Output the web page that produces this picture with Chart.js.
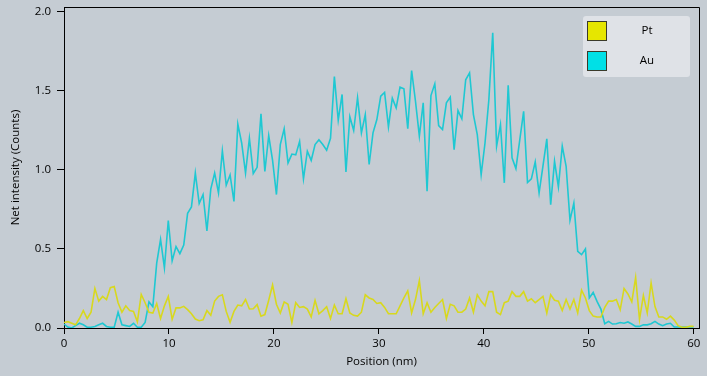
<!DOCTYPE html>
<html>
<head>
<meta charset="utf-8">
<script src="https://cdn.jsdelivr.net/npm/chart.js@4.4.1/dist/chart.umd.min.js"></script>
<style>
  html, body { margin: 0; padding: 0; background: #c5ccd3; }
  #wrap { width: 707px; height: 376px; }
</style>
</head>
<body>
<div id="wrap"><canvas id="perfil"></canvas></div>
<script>
// line scan sampled every ~0.368 nm
const passoNm = 0.368;
const ticksX = [0, 10, 20, 30, 40, 50, 60];
const ticksY = [0, 0.5, 1.0, 1.5, 2.0];

const intensidadePt = [
  0.035, 0.04, 0.03, 0.02, 0.06, 0.11, 0.06, 0.10, 0.25, 0.17,
  0.20, 0.18, 0.255, 0.262, 0.16, 0.10, 0.14, 0.11, 0.105, 0.04,
  0.212, 0.16, 0.10, 0.095, 0.155, 0.06, 0.14, 0.20, 0.055, 0.127,
  0.127, 0.137, 0.116, 0.09, 0.057, 0.046, 0.052, 0.11, 0.08, 0.17,
  0.20, 0.21, 0.105, 0.036, 0.105, 0.145, 0.14, 0.18, 0.12, 0.122,
  0.148, 0.075, 0.085, 0.175, 0.272, 0.15, 0.095, 0.165, 0.15, 0.035,
  0.16, 0.13, 0.135, 0.12, 0.07, 0.175, 0.09, 0.11, 0.135, 0.06,
  0.145, 0.09, 0.09, 0.185, 0.095, 0.08, 0.075, 0.10, 0.21, 0.19,
  0.18, 0.155, 0.16, 0.13, 0.09, 0.09, 0.09, 0.14, 0.19, 0.235,
  0.095, 0.18, 0.30, 0.09, 0.16, 0.10, 0.13, 0.155, 0.18, 0.06,
  0.15, 0.14, 0.10, 0.10, 0.12, 0.19, 0.10, 0.21, 0.17, 0.14,
  0.23, 0.23, 0.10, 0.085, 0.16, 0.17, 0.23, 0.20, 0.20, 0.23,
  0.17, 0.185, 0.16, 0.18, 0.20, 0.095, 0.21, 0.175, 0.17, 0.11,
  0.18, 0.12, 0.18, 0.095, 0.24, 0.19, 0.11, 0.075, 0.07, 0.07,
  0.13, 0.17, 0.17, 0.18, 0.115, 0.25, 0.215, 0.165, 0.32, 0.055,
  0.205, 0.095, 0.285, 0.135, 0.07, 0.07, 0.055, 0.075, 0.05, 0.015,
  0.005, 0.005, 0.01, 0.01
];

const intensidadeAu = [
  0.025, 0.006, 0.0, 0.015, 0.03, 0.02, 0.005, 0.005, 0.01, 0.02,
  0.03, 0.01, 0.005, 0.005, 0.10, 0.02, 0.015, 0.01, 0.03, 0.005,
  0.005, 0.035, 0.165, 0.135, 0.41, 0.56, 0.38, 0.68, 0.425, 0.515,
  0.47, 0.525, 0.725, 0.766, 0.98, 0.787, 0.844, 0.614, 0.878, 0.98,
  0.854, 1.12, 0.903, 0.968, 0.80, 1.29, 1.17, 0.98, 1.20, 0.977,
  1.016, 1.354, 0.99, 1.217, 1.06, 0.844, 1.16, 1.26, 1.044, 1.10,
  1.095, 1.18, 0.943, 1.118, 1.06, 1.16, 1.19, 1.16, 1.124, 1.20,
  1.59, 1.314, 1.477, 0.987, 1.336, 1.249, 1.456, 1.234, 1.35, 1.034,
  1.234, 1.318, 1.466, 1.49, 1.272, 1.453, 1.392, 1.523, 1.513, 1.261,
  1.628, 1.434, 1.213, 1.424, 0.865, 1.47, 1.544, 1.28, 1.255, 1.424,
  1.46, 1.128, 1.375, 1.323, 1.57, 1.614, 1.35, 1.223, 0.97, 1.17,
  1.445, 1.867, 1.15, 1.287, 0.918, 1.535, 1.076, 1.008, 1.19, 1.37,
  0.92, 0.943, 1.05, 0.854, 1.023, 1.196, 0.78, 1.054, 0.892, 1.15,
  1.023, 0.681, 0.79, 0.485, 0.464, 0.50, 0.19, 0.225, 0.168, 0.12,
  0.027, 0.042, 0.025, 0.027, 0.035, 0.03, 0.038, 0.025, 0.01, 0.01,
  0.02, 0.02, 0.027, 0.042, 0.025, 0.015, 0.025, 0.03, 0.006, 0.006,
  0.006, 0.006, 0.006, 0.006
];

const posicoes = intensidadeAu.map((_, i) => +(i * passoNm).toFixed(3));

const fonteEixo = { family: "'Open Sans', 'Noto Sans', sans-serif", size: 11.5 };

const fundoPlugin = {
  id: 'fundo',
  beforeDraw(chart) {
    const c = chart.ctx;
    c.save();
    c.fillStyle = '#c5ccd3';
    c.fillRect(0, 0, chart.width, chart.height);
    c.restore();
  },
  afterDraw(chart) {
    const c = chart.ctx;
    const a = chart.chartArea;
    c.save();
    c.strokeStyle = '#000';
    c.lineWidth = 1;
    c.beginPath();
    c.moveTo(Math.round(a.left) + 0.5, Math.round(a.top) + 0.5);
    c.lineTo(Math.round(a.right) + 0.5, Math.round(a.top) + 0.5);
    c.lineTo(Math.round(a.right) + 0.5, Math.round(a.bottom) + 0.5);
    c.stroke();

    // legend box
    const bx = a.right - 116, by = a.top + 9, bw = 107, bh = 61;
    c.fillStyle = '#dfe2e7';
    c.beginPath();
    c.roundRect(bx, by, bw, bh, 3);
    c.fill();
    const itens = [
      { rotulo: 'Pt', cor: '#e6e600' },
      { rotulo: 'Au', cor: '#00e0e6' }
    ];
    itens.forEach((it, k) => {
      const sy = by + 5 + k * 30;
      c.fillStyle = it.cor;
      c.fillRect(bx + 4.5, sy + 0.5, 19, 19);
      c.strokeStyle = '#3a3a2a';
      c.strokeRect(bx + 4.5, sy + 0.5, 19, 19);
      c.fillStyle = '#000';
      c.font = "11.5px 'Open Sans', 'Noto Sans', sans-serif";
      c.textAlign = 'center';
      c.textBaseline = 'middle';
      c.fillText(chart.data.datasets[k].label, bx + 64, sy + 10);
    });
    c.restore();
  }
};

new Chart(document.getElementById('perfil'), {
  type: 'line',
  plugins: [fundoPlugin],
  data: {
    labels: posicoes,
    datasets: [
      { label: 'Pt', data: intensidadePt, borderColor: '#d8d81e', borderWidth: 1.6, pointRadius: 0, tension: 0, fill: false },
      { label: 'Au', data: intensidadeAu, borderColor: '#1fc8d2', borderWidth: 1.6, pointRadius: 0, tension: 0, fill: false }
    ]
  },
  options: {
    responsive: true,
    maintainAspectRatio: false,
    animation: false,
    devicePixelRatio: 1,
    layout: { padding: { top: 7, right: 8, left: 0, bottom: 0 } },
    plugins: { legend: { display: false }, tooltip: { enabled: false } },
    scales: {
      x: {
        type: 'linear',
        min: 0,
        max: 60.5,
        afterBuildTicks: s => { s.ticks = ticksX.map(v => ({ value: v })); },
        afterFit: s => { s.height = 48; s.paddingLeft = 0; s.paddingRight = 0; },
        ticks: { color: '#000', font: fonteEixo, padding: 3, maxRotation: 0, autoSkip: false },
        grid: { drawOnChartArea: false, color: '#000', tickLength: 6 },
        border: { color: '#000', width: 1 },
        title: { display: true, text: 'Position (nm)', color: '#000', font: fonteEixo, padding: { top: 0, bottom: 7 } }
      },
      y: {
        min: 0,
        max: 2.03,
        afterBuildTicks: s => { s.ticks = ticksY.map(v => ({ value: v })); },
        afterFit: s => { s.width = 64; s.paddingTop = 0; s.paddingBottom = 0; },
        ticks: { color: '#000', font: fonteEixo, padding: 6, callback: v => v.toFixed(1) },
        grid: { drawOnChartArea: false, color: '#000', tickLength: 7 },
        border: { color: '#000', width: 1 },
        title: { display: true, text: 'Net intensity (Counts)', color: '#000', font: fonteEixo, padding: { top: 9, bottom: 0 } }
      }
    }
  }
});
</script>
</body>
</html>
